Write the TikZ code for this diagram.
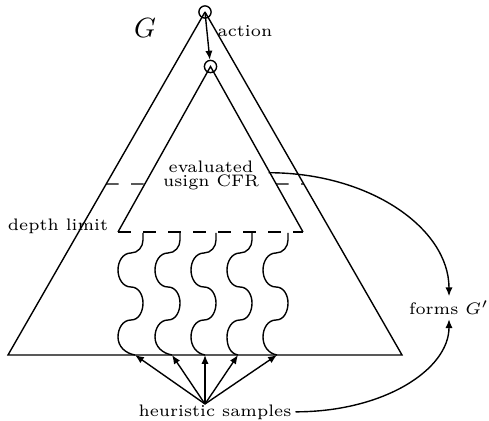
\documentclass[tikz,border=0pt]{standalone}
\usetikzlibrary{arrows.meta,calc}
\begin{document}
\begin{tikzpicture}[x=0.36pt,y=-0.36pt, line width=0.5pt,
  >={Latex[length=3.2pt,width=2.6pt]},
  dot/.style={draw,circle,minimum size=4.4pt,inner sep=0pt},
  dashline/.style={dash pattern=on 4.5pt off 4.5pt},
  lbl/.style={font=\fontsize{6}{5.1}\selectfont,inner sep=1.2pt}]
\useasboundingbox (0,0) rectangle (489,421);
\coordinate (A) at (205,12);
\coordinate (BL) at (8,355);
\coordinate (BR) at (402,355);
\coordinate (B) at (210.5,66.5);
\coordinate (IL) at (118,232);
\coordinate (IR) at (303,232);
\node[dot] (top) at (A) {};
\node[dot] (sub) at (B) {};
% big triangle
\draw (top.center) -- (BR) -- (BL) -- (top.center);
% inner triangle
\draw (IL) -- (sub.center) -- (IR);
\draw[dashline] (IL) -- (IR);
\draw[->] (top.center) -- (sub);
% dashed line across big triangle
\draw[dashline] ($(A)!0.5015!(BL)$) -- ($(B)!0.71!(IL)$);
\draw[dashline] ($(B)!0.71!(IR)$) -- ($(A)!0.5015!(BR)$);
% labels
\node (G) at (145,28) {$G$};
\node[lbl,anchor=base] (act) at (245,36.7) {action};
\node[lbl,anchor=base] (depth) at (58,231) {depth limit};
\node[lbl,align=center] (eval) at (211,175.5) {evaluated\\usign CFR};
\node[lbl,anchor=base] (heur) at (215,416) {heuristic samples};
\node[lbl,anchor=base] (forms) at (449,315) {forms $G'$};
\coordinate (fan) at (205,404);
% squiggles
\foreach \t/\b [count=\i] in {143/135,180/172,216/205,252/238,288/277}{
  \draw (\t,233) -- (\t,240) to[out=-90,in=0] (\t-12,253)
    to[out=180,in=90] (\t-25,270) to[out=-90,in=180] (\t-12,287)
    to[out=0,in=90] (\t,303) to[out=-90,in=0] (\t-12,320)
    to[out=180,in=90] (\t-25,337) to[out=-90,in=170] (\b,355) coordinate (e\i);
  \draw[->] (fan) -- (e\i);
}
% curves to forms G'
\draw[->] ([xshift=2pt,yshift=1pt]eval.east) .. controls +(101,0) and +(0,-68) .. (forms.north);
\draw[->] (heur.east) .. controls +(89,0) and +(0,50) .. (forms.south);
\end{tikzpicture}
\end{document}
